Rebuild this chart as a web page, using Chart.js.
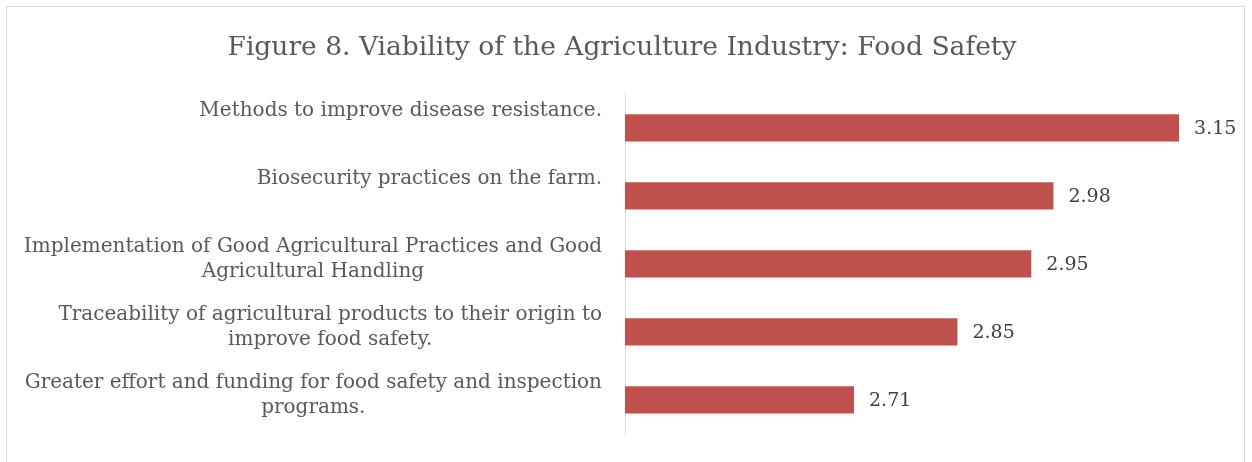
<!DOCTYPE html>
<html lang="en">
<head>
    <meta charset="UTF-8" />
    <title>Food Safety</title>
    <script src="https://cdn.jsdelivr.net/npm/chart.js"></script>
    <style>
        html, body {
          margin: 0;
          padding: 0;
          background: #ffffff;
          overflow: hidden;
        }

        .chart-box {
          position: absolute;
          left: 6px;
          top: 6px;
          width: 1237px;
          height: 470px;
          border: 1px solid #d9d9d9;
        }
    </style>
</head>
<body>

<div class="chart-box">
    <canvas id="safetyChart" width="1237" height="455"></canvas>
</div>

<script>
    // categories, top to bottom
    const categories = [
      ['Methods to improve disease resistance.'],
      ['Biosecurity practices on the farm.'],
      ['Implementation of Good Agricultural Practices and Good', 'Agricultural Handling'],
      ['Traceability of agricultural products to their origin to', 'improve food safety.'],
      ['Greater effort and funding for food safety and inspection', 'programs.']
    ];
    const scores = [3.15, 2.98, 2.95, 2.85, 2.71];
    const valueLabels = ['3.15', '2.98', '2.95', '2.85', '2.71'];

    const fontFamily = "'DejaVu Serif', 'Liberation Serif', serif";
    const textColor = '#595959';

    // category labels: first line right aligned, next lines centred under it
    const categoryLabels = {
      id: 'categoryLabels',
      afterDraw(chart) {
        const ctx = chart.ctx;
        const yScale = chart.scales.y;
        const right = chart.chartArea.left - 23;
        ctx.save();
        ctx.font = '20px ' + fontFamily;
        ctx.fillStyle = textColor;
        ctx.textBaseline = 'middle';
        categories.forEach((lines, i) => {
          const y = yScale.getPixelForValue(i) - 17;
          const w1 = ctx.measureText(lines[0]).width;
          lines.forEach((line, j) => {
            if (j === 0) {
              ctx.textAlign = 'right';
              ctx.fillText(line, right, y);
            } else {
              ctx.textAlign = 'center';
              ctx.fillText(line, right - w1 / 2, y + j * 25);
            }
          });
        });
        ctx.restore();
      }
    };

    // value labels at the end of each bar
    const valueLabelsPlugin = {
      id: 'valueLabels',
      afterDatasetsDraw(chart) {
        const ctx = chart.ctx;
        const meta = chart.getDatasetMeta(0);
        ctx.save();
        ctx.font = '19px ' + fontFamily;
        ctx.fillStyle = '#404040';
        ctx.textAlign = 'left';
        ctx.textBaseline = 'middle';
        meta.data.forEach((bar, i) => {
          ctx.fillText(valueLabels[i], bar.x + 15, bar.y + 1);
        });
        ctx.restore();
      }
    };

    const ctx = document.getElementById('safetyChart').getContext('2d');

    new Chart(ctx, {
      type: 'bar',
      data: {
        labels: categories,
        datasets: [{
          data: scores,
          backgroundColor: '#c0504d',
          borderWidth: 0,
          categoryPercentage: 1,
          barPercentage: 0.4
        }]
      },
      options: {
        indexAxis: 'y',
        responsive: false,
        animation: false,
        layout: {
          padding: { left: 21, right: 28, top: 0, bottom: 28 }
        },
        plugins: {
          legend: { display: false },
          tooltip: { enabled: false },
          title: {
            display: true,
            text: 'Figure 8. Viability of the Agriculture Industry: Food Safety',
            color: textColor,
            font: { family: fontFamily, size: 26.5, weight: 'normal' },
            padding: { top: 25, bottom: 30 }
          }
        },
        scales: {
          x: {
            display: false,
            min: 2.4,
            max: 3.2
          },
          y: {
            afterFit(scale) { scale.width = 597; },
            ticks: { display: false },
            grid: { display: false, drawTicks: false },
            border: { display: true, color: '#d9d9d9', width: 1 }
          }
        }
      },
      plugins: [categoryLabels, valueLabelsPlugin]
    });
</script>

</body>
</html>
